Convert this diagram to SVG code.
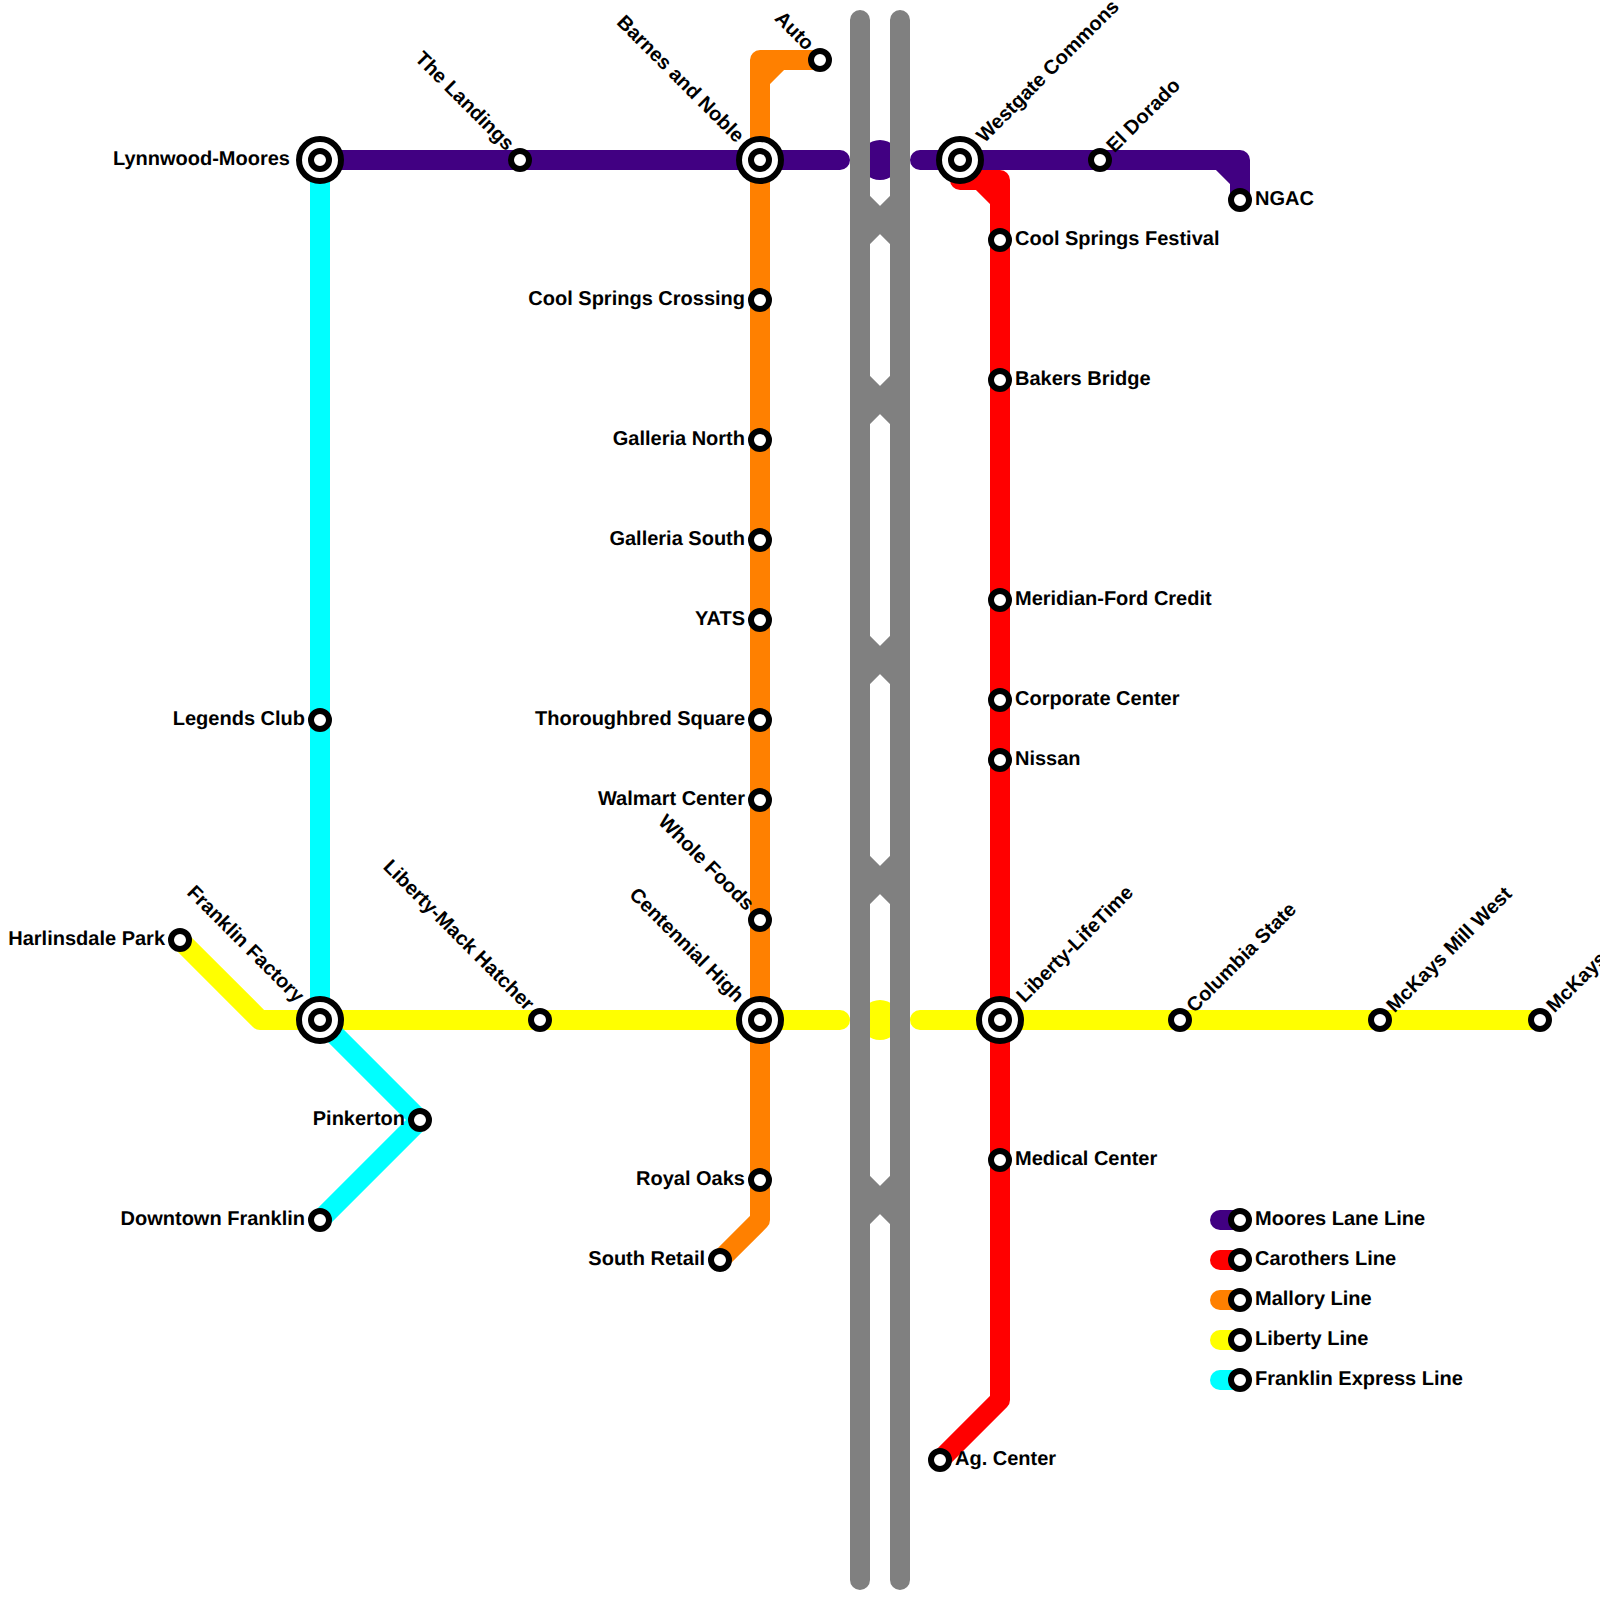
<svg xmlns="http://www.w3.org/2000/svg" width="1600" height="1600" viewBox="0 0 1600 1600">
<style>
.l{fill:none;stroke-width:20;stroke-linecap:round;stroke-linejoin:round}
.b{fill:none;stroke-width:20;stroke-linecap:butt}
.p{stroke:#410082}.r{stroke:#ff0000}.o{stroke:#ff8000}.y{stroke:#ffff00}.c{stroke:#00ffff}.g{stroke:#808080}
.s{fill:#fff;stroke:#000;stroke-width:6}
text{font-family:"Liberation Sans",Arial,sans-serif;font-weight:700;font-size:20px;fill:#000;text-rendering:geometricPrecision}
.e{text-anchor:end}
</style>
<defs>
<g id="st"><circle class="s" r="9"/></g>
<g id="ix"><circle class="s" r="21"/><circle class="s" r="9"/></g>
</defs>
<g id="connectors">
<path class="l p" d="M320 160H840M920 160H1240V200"/>
<path class="b p" d="M1220 160L1240 180"/>
<path class="l r" d="M960 160V180H1000V1400L940 1460"/>
<path class="b r" d="M980 180L1000 200"/>
<path class="l o" d="M820 60H760V1220L720 1260"/>
<path class="b o" d="M780 60L760 80"/>
<path class="l y" d="M180 940L260 1020H840M920 1020H1540"/>
<path class="l c" d="M320 160V1020L420 1120L320 1220"/>
<circle cx="880" cy="160" r="20" fill="#410082"/>
<circle cx="880" cy="1020" r="20" fill="#ffff00"/>
<path class="l g" d="M860 20V1580M900 20V1580"/>
<path class="b g" d="M860 200L900 240M900 200L860 240M860 380L900 420M900 380L860 420M860 640L900 680M900 640L860 680M860 860L900 900M900 860L860 900M860 1180L900 1220M900 1180L860 1220"/>
<path class="l p" d="M1220 1220H1240"/>
<path class="l r" d="M1220 1260H1240"/>
<path class="l o" d="M1220 1300H1240"/>
<path class="l y" d="M1220 1340H1240"/>
<path class="l c" d="M1220 1380H1240"/>
</g>
<g id="n-lynnwood"><use href="#ix" x="320" y="160"/><text class="e" x="290" y="165">Lynnwood-Moores</text></g>
<g id="n-landings"><use href="#st" x="520" y="160"/><text class="e" transform="translate(506 151.5) rotate(45)">The Landings</text></g>
<g id="n-barnes"><use href="#ix" x="760" y="160"/><text class="e" transform="translate(736 143.5) rotate(45)">Barnes and Noble</text></g>
<g id="n-auto"><use href="#st" x="820" y="60"/><text class="e" transform="translate(806 51.5) rotate(45)">Auto</text></g>
<g id="n-westgate"><use href="#ix" x="960" y="160"/><text transform="translate(984.5 143.5) rotate(-45)">Westgate Commons</text></g>
<g id="n-eldorado"><use href="#st" x="1100" y="160"/><text transform="translate(1114.5 153.5) rotate(-45)">El Dorado</text></g>
<g id="n-ngac"><use href="#st" x="1240" y="200"/><text x="1255" y="205">NGAC</text></g>
<g id="n-csf"><use href="#st" x="1000" y="240"/><text x="1015" y="245">Cool Springs Festival</text></g>
<g id="n-bakers"><use href="#st" x="1000" y="380"/><text x="1015" y="385">Bakers Bridge</text></g>
<g id="n-meridian"><use href="#st" x="1000" y="600"/><text x="1015" y="605">Meridian-Ford Credit</text></g>
<g id="n-corporate"><use href="#st" x="1000" y="700"/><text x="1015" y="705">Corporate Center</text></g>
<g id="n-nissan"><use href="#st" x="1000" y="760"/><text x="1015" y="765">Nissan</text></g>
<g id="n-lifetime"><use href="#ix" x="1000" y="1020"/><text transform="translate(1024.5 1003.5) rotate(-45)">Liberty-LifeTime</text></g>
<g id="n-medical"><use href="#st" x="1000" y="1160"/><text x="1015" y="1165">Medical Center</text></g>
<g id="n-ag"><use href="#st" x="940" y="1460"/><text x="955" y="1465">Ag. Center</text></g>
<g id="n-columbia"><use href="#st" x="1180" y="1020"/><text transform="translate(1194.5 1013.5) rotate(-45)">Columbia State</text></g>
<g id="n-mckaysw"><use href="#st" x="1380" y="1020"/><text transform="translate(1394.5 1013.5) rotate(-45)">McKays Mill West</text></g>
<g id="n-mckays"><use href="#st" x="1540" y="1020"/><text transform="translate(1554.5 1013.5) rotate(-45)">McKays</text></g>
<g id="n-ccrossing"><use href="#st" x="760" y="300"/><text class="e" x="745" y="305">Cool Springs Crossing</text></g>
<g id="n-gnorth"><use href="#st" x="760" y="440"/><text class="e" x="745" y="445">Galleria North</text></g>
<g id="n-gsouth"><use href="#st" x="760" y="540"/><text class="e" x="745" y="545">Galleria South</text></g>
<g id="n-yats"><use href="#st" x="760" y="620"/><text class="e" x="745" y="625">YATS</text></g>
<g id="n-thoroughbred"><use href="#st" x="760" y="720"/><text class="e" x="745" y="725">Thoroughbred Square</text></g>
<g id="n-walmart"><use href="#st" x="760" y="800"/><text class="e" x="745" y="805">Walmart Center</text></g>
<g id="n-whole"><use href="#st" x="760" y="920"/><text class="e" transform="translate(746 911.5) rotate(45)">Whole Foods</text></g>
<g id="n-centennial"><use href="#ix" x="760" y="1020"/><text class="e" transform="translate(736 1003.5) rotate(45)">Centennial High</text></g>
<g id="n-royal"><use href="#st" x="760" y="1180"/><text class="e" x="745" y="1185">Royal Oaks</text></g>
<g id="n-south"><use href="#st" x="720" y="1260"/><text class="e" x="705" y="1265">South Retail</text></g>
<g id="n-legends"><use href="#st" x="320" y="720"/><text class="e" x="305" y="725">Legends Club</text></g>
<g id="n-franklin"><use href="#ix" x="320" y="1020"/><text class="e" transform="translate(296 1003.5) rotate(45)">Franklin Factory</text></g>
<g id="n-pinkerton"><use href="#st" x="420" y="1120"/><text class="e" x="405" y="1125">Pinkerton</text></g>
<g id="n-downtown"><use href="#st" x="320" y="1220"/><text class="e" x="305" y="1225">Downtown Franklin</text></g>
<g id="n-harlinsdale"><use href="#st" x="180" y="940"/><text class="e" x="165" y="945">Harlinsdale Park</text></g>
<g id="n-mack"><use href="#st" x="540" y="1020"/><text class="e" transform="translate(526 1011.5) rotate(45)">Liberty-Mack Hatcher</text></g>
<g id="legend-moores"><use href="#st" x="1240" y="1220"/><text x="1255" y="1225">Moores Lane Line</text></g>
<g id="legend-carothers"><use href="#st" x="1240" y="1260"/><text x="1255" y="1265">Carothers Line</text></g>
<g id="legend-mallory"><use href="#st" x="1240" y="1300"/><text x="1255" y="1305">Mallory Line</text></g>
<g id="legend-liberty"><use href="#st" x="1240" y="1340"/><text x="1255" y="1345">Liberty Line</text></g>
<g id="legend-franklin"><use href="#st" x="1240" y="1380"/><text x="1255" y="1385">Franklin Express Line</text></g>
</svg>
